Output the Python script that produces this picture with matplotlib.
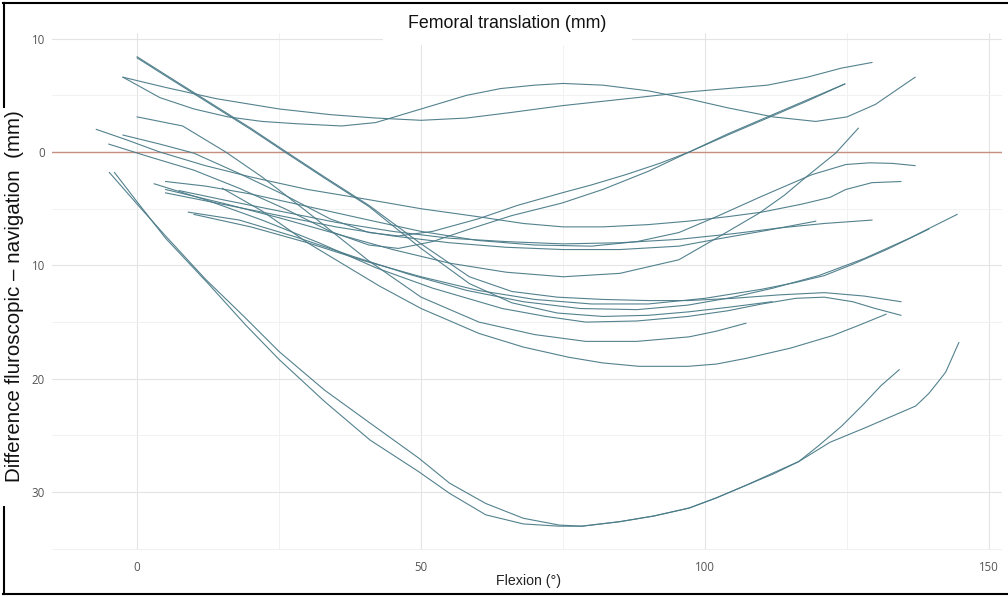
import matplotlib
matplotlib.use('Agg')
import matplotlib.pyplot as plt
from matplotlib.patches import Rectangle
from matplotlib.lines import Line2D

# --- data (flexion in degrees, difference in mm; + is up) ---
flex01 = [-2.5, 4, 10, 16, 22, 28, 36, 42, 50, 58, 64, 70, 75, 82, 90, 97, 104, 112, 119.5, 125, 130, 137]
diff01 = [6.6, 4.8, 3.8, 3.1, 2.7, 2.5, 2.3, 2.6, 3.8, 5.0, 5.6, 5.9, 6.05, 5.9, 5.4, 4.7, 3.9, 3.1, 2.7, 3.1, 4.2, 6.6]

flex02 = [-2.5, 5, 14, 25, 34, 42, 50, 58, 66, 75, 88, 97, 104, 111, 118, 124, 129.4]
diff02 = [6.6, 5.7, 4.7, 3.8, 3.3, 3.0, 2.8, 3.0, 3.5, 4.1, 4.8, 5.3, 5.6, 5.9, 6.6, 7.4, 7.9]

flex03 = [0, 6, 13, 20, 26, 33, 40.8, 50, 58.5, 66, 74, 82, 90, 97, 104, 111.8]
diff03 = [8.3, 6.4, 4.2, 2.0, 0.0, -2.3, -4.8, -8.5, -11.6, -13.3, -14.2, -14.5, -14.4, -14.1, -13.7, -13.2]

flex04 = [0, 6, 13, 20, 26, 33, 40.8, 50, 58.5, 66, 74, 82, 90, 97, 105, 113, 121, 128, 134.5]
diff04 = [8.4, 6.5, 4.3, 2.1, 0.1, -2.2, -4.7, -8.1, -11.0, -12.3, -12.8, -13.0, -13.1, -13.1, -12.9, -12.6, -12.4, -12.7, -13.2]

flex05 = [0, 8, 15.6, 22, 30, 40.8, 50, 60.2, 70, 79, 88, 97.2, 102, 107.2]
diff05 = [3.1, 2.3, 0.0, -2.2, -5.3, -9.6, -12.8, -15.0, -16.1, -16.7, -16.7, -16.3, -15.8, -15.1]

flex06 = [-7.2, -2, 4, 12, 20, 30, 40.8, 50, 60, 68, 75, 82, 90, 97, 104, 110, 117, 122, 124.8, 129.4, 134.5]
diff06 = [2.0, 1.1, 0.0, -1.2, -2.2, -3.3, -4.2, -5.0, -5.7, -6.3, -6.6, -6.6, -6.4, -6.1, -5.7, -5.3, -4.6, -4.0, -3.3, -2.7, -2.6]

flex07 = [-2.5, 4, 10, 18, 26, 34, 40.8, 46, 52, 60, 67, 74.8, 80, 86, 92, 97.2, 104, 111, 118, 124.6]
diff07 = [1.5, 0.7, -0.1, -1.9, -3.8, -5.9, -7.1, -7.4, -7.0, -5.9, -4.7, -3.6, -2.9, -2.0, -1.0, 0.0, 1.6, 3.1, 4.6, 6.0]

flex08 = [-5, 2, 10, 18, 26, 34, 40.8, 46, 52, 58.5, 66, 74.8, 82, 90, 97.2, 104, 111, 118, 124.6]
diff08 = [0.7, -0.4, -1.6, -3.2, -5.0, -7.0, -8.2, -8.5, -7.9, -6.8, -5.6, -4.5, -3.3, -1.7, 0.0, 1.5, 3.0, 4.5, 6.0]

flex09 = [5, 12, 20, 30, 40.8, 50, 60, 70, 80, 88, 95.4, 102, 110, 118.8, 124.8, 129, 133, 137]
diff09 = [-2.6, -3.0, -3.7, -4.8, -6.0, -7.0, -7.8, -8.2, -8.3, -7.9, -7.1, -5.7, -3.9, -2.0, -1.1, -0.95, -1.0, -1.2]

flex10 = [5, 15, 25, 35, 45, 55, 65, 75, 85, 95.4, 102, 109.5, 114, 117.8, 123, 127]
diff10 = [-3.3, -4.5, -5.8, -7.2, -8.6, -9.8, -10.6, -11.0, -10.7, -9.5, -7.6, -5.4, -3.8, -2.2, -0.1, 2.1]

flex11 = [5, 15, 25, 35, 45, 55, 65, 75, 85, 95.4, 103, 111, 119.5]
diff11 = [-3.6, -4.6, -5.6, -6.6, -7.4, -8.0, -8.4, -8.6, -8.6, -8.3, -7.6, -6.9, -6.1]

flex12 = [7.4, 15, 25, 35, 45, 55, 65, 75, 85, 95.4, 105, 113, 121, 129.4]
diff12 = [-3.4, -4.2, -5.2, -6.2, -7.0, -7.6, -7.9, -8.1, -8.0, -7.7, -7.2, -6.7, -6.3, -6.0]

flex13 = [10, 20, 30, 40, 50, 60, 70, 80, 90, 100, 110, 116, 121, 126, 132, 139.4]
diff13 = [-5.5, -6.6, -8.0, -9.6, -11.0, -12.2, -13.0, -13.4, -13.4, -12.9, -12.1, -11.5, -10.9, -9.9, -8.6, -6.8]

flex14 = [9, 18, 28, 38, 48, 58, 68, 78, 88, 97, 105, 112, 120, 128, 136, 144.4]
diff14 = [-5.3, -6.0, -7.5, -9.2, -10.8, -12.2, -13.2, -13.8, -13.9, -13.5, -12.8, -12.0, -10.9, -9.4, -7.6, -5.5]

flex15 = [3, 12, 22, 32, 42, 52, 64.3, 72, 79, 88, 97, 104, 110, 116, 121, 126, 130, 134.5]
diff15 = [-2.8, -4.2, -6.0, -8.0, -10.2, -12.0, -13.8, -14.5, -15.0, -14.9, -14.5, -14.0, -13.4, -12.9, -12.8, -13.2, -13.8, -14.4]

flex16 = [15, 22, 30, 42.6, 50, 60.2, 68, 76, 82, 88.4, 97, 102, 107.2, 115, 122.4, 127, 131.9]
diff16 = [-3.2, -5.2, -8.0, -11.8, -13.8, -16.0, -17.2, -18.1, -18.6, -18.9, -18.9, -18.7, -18.2, -17.3, -16.2, -15.3, -14.3]

flex17 = [-4.9, 0, 5, 12, 19, 25, 33, 41, 49.6, 55, 61.4, 68, 74.3, 78.3, 85, 91, 97.2, 102, 107.2, 112, 116.5, 120, 124, 128, 131, 134.2]
diff17 = [-1.8, -4.6, -7.4, -11.2, -14.6, -17.6, -21.0, -23.9, -27.0, -29.2, -31.0, -32.3, -32.9, -33.0, -32.6, -32.1, -31.4, -30.5, -29.4, -28.4, -27.3, -25.9, -24.2, -22.2, -20.6, -19.2]

flex18 = [-4, 0, 5, 12.5, 19, 25, 33, 41, 49.6, 55, 61.4, 68, 74.3, 78.3, 85, 91, 97.2, 102, 107.2, 112, 116.5, 122, 128.3, 132, 137.1, 139.4, 141, 142.4, 144.7]
diff18 = [-1.8, -4.4, -7.6, -11.6, -15.2, -18.3, -22.0, -25.4, -28.2, -30.1, -32.0, -32.8, -33.0, -33.0, -32.6, -32.1, -31.4, -30.5, -29.4, -28.3, -27.3, -25.6, -24.3, -23.5, -22.4, -21.3, -20.3, -19.4, -16.8]

xtick_vals = [0, 50, 100, 150]
ytick_vals = [10, 0, -10, -20, -30]
ytick_labels = ['10', '0', '10', '20', '30']

flexions = [flex01, flex02, flex03, flex04, flex05, flex06, flex07, flex08, flex09,
            flex10, flex11, flex12, flex13, flex14, flex15, flex16, flex17, flex18]
diffs = [diff01, diff02, diff03, diff04, diff05, diff06, diff07, diff08, diff09,
         diff10, diff11, diff12, diff13, diff14, diff15, diff16, diff17, diff18]

W, H = 1008, 597
fig = plt.figure(figsize=(W / 100, H / 100), dpi=100)
ax = fig.add_axes([52 / W, 47 / H, 950 / W, 517 / H])
ax.set_xlim(-15, 152.3)
ax.set_ylim(-35.1, 10.5)

# grid like ggplot theme_minimal
ax.set_xticks(xtick_vals)
ax.set_xticks([25, 75, 125], minor=True)
ax.set_yticks(ytick_vals)
ax.set_yticklabels(ytick_labels)
ax.set_yticks([5, -5, -15, -25, -35], minor=True)
ax.grid(which='major', color='#e4e4e4', lw=0.8)
ax.grid(which='minor', color='#efefef', lw=0.6)
ax.set_axisbelow(True)
for s in ax.spines.values():
    s.set_visible(False)
ax.tick_params(which='both', length=0)
ax.tick_params(axis='y', pad=5, labelsize=8.3, labelcolor='#555555')
ax.tick_params(axis='x', pad=8, labelsize=8.3, labelcolor='#555555')
for lab in ax.get_xticklabels() + ax.get_yticklabels():
    lab.set_fontfamily('Open Sans')

ax.axhline(0, color='#c59080', lw=1.0, zorder=2)

for fx, dy in zip(flexions, diffs):
    ax.plot(fx, dy, color='#4a7b88', lw=0.8, alpha=0.95, zorder=3)

# outer frame (top, left, bottom)
lw_frame = 1.5
fig.add_artist(Line2D([3 / W, 1], [1 - 2.5 / H, 1 - 2.5 / H], color='black', lw=lw_frame, transform=fig.transFigure))
fig.add_artist(Line2D([3 / W, 1], [1 - 594 / H, 1 - 594 / H], color='black', lw=lw_frame, transform=fig.transFigure))
fig.add_artist(Line2D([3.5 / W, 3.5 / W], [1 - 2.5 / H, 1 - 594 / H], color='black', lw=lw_frame, transform=fig.transFigure))

# white boxes behind title and y label
fig.add_artist(Rectangle((383 / W, 1 - 45 / H), 249 / W, 40 / H, facecolor='white',
                         edgecolor='none', transform=fig.transFigure, zorder=5))
fig.add_artist(Rectangle((0, 1 - 506 / H), 32 / W, 398 / H, facecolor='white',
                         edgecolor='none', transform=fig.transFigure, zorder=5))

fig.text(507 / W, 1 - 24 / H, 'Femoral translation (mm)', ha='center', va='center',
         fontsize=12.8, family='Liberation Sans', color='#111111', zorder=6)
fig.text(15 / W, 1 - 296 / H, 'Difference fluroscopic \u2013 navigation  (mm)', ha='center', va='center',
         rotation=90, fontsize=14.8, family='Liberation Sans', color='#111111', zorder=6)
fig.text(528 / W, 1 - 581 / H, 'Flexion (°)', ha='center', va='center',
         fontsize=10.2, family='Liberation Sans', color='#222222', zorder=6)

fig.savefig('out.png', dpi=100)
